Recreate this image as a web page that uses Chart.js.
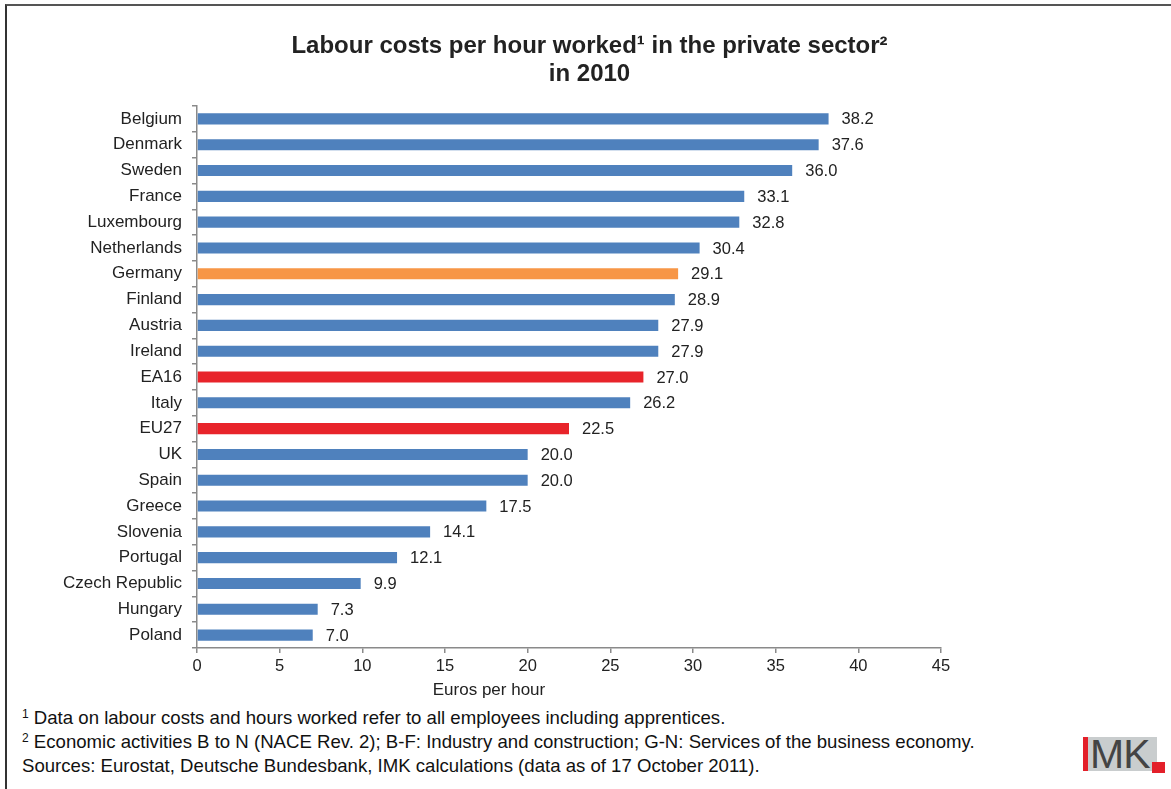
<!DOCTYPE html>
<html>
<head>
<meta charset="utf-8">
<script src="https://cdn.jsdelivr.net/npm/chart.js@4.4.0/dist/chart.umd.min.js"></script>
<style>
  body { margin: 0; background: #fff; font-family: "Liberation Sans", Arial, sans-serif; }
  #wrap { position: relative; width: 1171px; height: 789px; overflow: hidden; }
  #frame { position: absolute; left: 5px; top: 4px; width: 1200px; height: 800px;
           border-top: 2px solid #555; border-left: 2px solid #333; }
  #chartBox { position: absolute; left: 0; top: 0; width: 1171px; height: 700px; }
  #xTitle { position: absolute; left: 389px; width: 200px; top: 680px; text-align: center;
            font-size: 17px; color: #222; }
  #notes { position: absolute; left: 22px; top: 706px; font-size: 18.6px; line-height: 24px; color: #111; }
  #notes sup { font-size: 12px; vertical-align: 6px; line-height: 0; }
  #logo { position: absolute; left: 1083px; top: 737px; width: 74px; height: 34px; background: #c9cdce; }
  #logo .bar { position: absolute; left: 0; top: 0; width: 5px; height: 34px; background: #e3202a; }
  #logo .txt { position: absolute; left: 7px; top: -3px; font-size: 41px; line-height: 40px;
               color: #444; letter-spacing: -1px; font-family: "Liberation Sans Narrow", "Liberation Sans", Arial, sans-serif; }
  #logo .dot { position: absolute; left: 69px; top: 25px; width: 13px; height: 11px; background: #e3202a; }
</style>
</head>
<body>
<div id="wrap">
  <div id="frame"></div>
  <div id="chartBox"><canvas id="barChart"></canvas></div>
  <div id="xTitle">Euros per hour</div>
  <div id="notes">
    <div><sup>1</sup> Data on labour costs and hours worked refer to all employees including apprentices.</div>
    <div><sup>2</sup> Economic activities B to N (NACE Rev. 2); B-F: Industry and construction; G-N: Services of the business economy.</div>
    <div>Sources: Eurostat, Deutsche Bundesbank, IMK calculations (data as of 17 October 2011).</div>
  </div>
  <div id="logo"><div class="bar"></div><div class="txt">MK</div><div class="dot"></div></div>
</div>
<script>
// Pays et coûts horaires (euros)
const countries = ['Belgium', 'Denmark', 'Sweden', 'France', 'Luxembourg', 'Netherlands', 'Germany',
    'Finland', 'Austria', 'Ireland', 'EA16', 'Italy', 'EU27', 'UK', 'Spain', 'Greece', 'Slovenia',
    'Portugal', 'Czech Republic', 'Hungary', 'Poland'];
const costs = [38.2, 37.6, 36.0, 33.1, 32.8, 30.4, 29.1, 28.9, 27.9, 27.9, 27.0, 26.2, 22.5,
    20.0, 20.0, 17.5, 14.1, 12.1, 9.9, 7.3, 7.0];
const xTicks = [0, 5, 10, 15, 20, 25, 30, 35, 40, 45];

const BLUE = '#4f81bd', ORANGE = '#f79646', RED = '#e8242a';
const barColors = countries.map(c => c === 'Germany' ? ORANGE : (c === 'EA16' || c === 'EU27') ? RED : BLUE);

// Étiquettes de valeur au bout des barres
const valueLabels = {
    id: 'valueLabels',
    afterDatasetsDraw(chart) {
        const ctx = chart.ctx;
        const meta = chart.getDatasetMeta(0);
        ctx.save();
        ctx.font = '16.5px "Liberation Sans", Arial, sans-serif';
        ctx.fillStyle = '#222';
        ctx.textAlign = 'left';
        ctx.textBaseline = 'middle';
        meta.data.forEach((bar, i) => {
            ctx.fillText(costs[i].toFixed(1), bar.x + 13, bar.y + 1);
        });
        ctx.restore();
    }
};

const ctx = document.getElementById('barChart').getContext('2d');
new Chart(ctx, {
    type: 'bar',
    data: {
        labels: countries,
        datasets: [{
            data: costs,
            backgroundColor: barColors,
            barPercentage: 0.43,
            categoryPercentage: 1
        }]
    },
    options: {
        indexAxis: 'y',
        responsive: true,
        maintainAspectRatio: false,
        animation: false,
        layout: { padding: { left: 8, right: 0, top: 0, bottom: 12 } },
        scales: {
            x: {
                min: 0,
                max: 45,
                afterBuildTicks: s => { s.ticks = xTicks.map(v => ({ value: v })); },
                afterFit: s => { s.height = 40; },
                border: { color: '#8a8a8a', width: 1.5 },
                grid: { drawOnChartArea: false, tickLength: 5, color: '#8a8a8a', lineWidth: 1.5 },
                ticks: { color: '#222', padding: 4, maxRotation: 0,
                         font: { size: 16.5, family: '"Liberation Sans", Arial, sans-serif' } }
            },
            y: {
                afterFit: s => { s.width = 189; },
                border: { color: '#8a8a8a', width: 1.5 },
                grid: { drawOnChartArea: false, tickLength: 5, color: '#8a8a8a', lineWidth: 1.5 },
                ticks: { color: '#222', padding: 10, autoSkip: false,
                         font: { size: 17, family: '"Liberation Sans", Arial, sans-serif' } }
            },
            // axe vide à droite : réserve la marge pour les étiquettes
            yRight: {
                type: 'linear',
                position: 'right',
                afterFit: s => { s.width = 230; },
                grid: { display: false },
                border: { display: false },
                ticks: { display: false }
            }
        },
        plugins: {
            legend: { display: false },
            tooltip: { enabled: false },
            title: {
                display: true,
                text: ['Labour costs per hour worked\u00b9 in the private sector\u00b2', 'in 2010'],
                color: '#222',
                font: { size: 24, weight: 'bold', lineHeight: 1.167, family: '"Liberation Sans", Arial, sans-serif' },
                padding: { top: 32, bottom: 18 }
            }
        }
    },
    plugins: [valueLabels]
});
</script>
</body>
</html>
